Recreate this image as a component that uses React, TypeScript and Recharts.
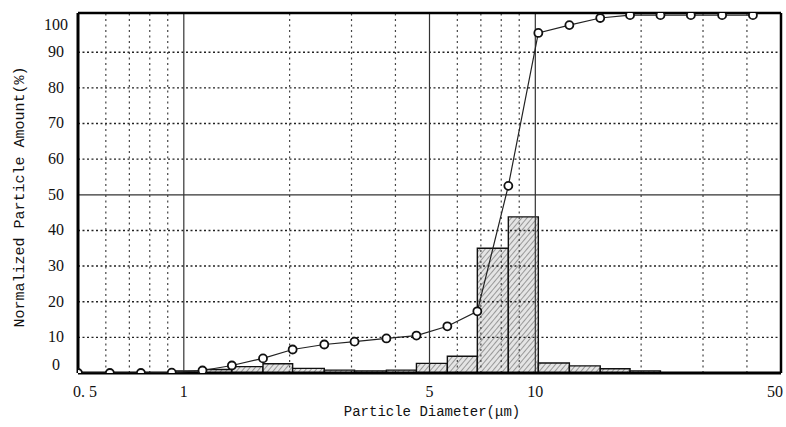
import React from "react";
import {
  ComposedChart,
  Line,
  XAxis,
  YAxis,
  ReferenceLine,
  ReferenceArea,
} from "recharts";

// Particle diameters (μm) of the measurement channels
const diameters = [
  0.5, 0.616, 0.755, 0.924, 1.13, 1.37, 1.68, 2.04, 2.51, 3.06, 3.77, 4.59,
  5.62, 6.84, 8.38, 10.2, 12.5, 15.3, 18.6, 22.7, 27.7, 34.0, 41.6,
];
// Cumulative normalized amount (%) at each diameter
const cumulative = [
  0, 0, 0, 0.1, 0.7, 2.1, 4.1, 6.6, 8.0, 8.8, 9.7, 10.5, 13.1, 17.3, 52.5,
  95.4, 97.6, 99.6, 100.4, 100.4, 100.4, 100.4, 100.4,
];
// Histogram bin heights (%) for the bin starting at each diameter
const binAmount = [
  0, 0, 0, 0.6, 1.0, 1.8, 2.6, 1.3, 0.8, 0.6, 0.8, 2.7, 4.7, 35.0, 43.8, 2.8,
  2.0, 1.2, 0.6, 0, 0, 0,
];

const xTicks = [0.5, 1, 5, 10, 50];
const xTickLabels = ["0. 5", "1", "5", "10", "50"];
const yTicks = [0, 10, 20, 30, 40, 50, 60, 70, 80, 90, 100];
const dottedX = [0.6, 0.7, 0.8, 0.9, 2, 3, 4, 6, 7, 8, 9, 20, 30, 40];
const solidX = [1, 5, 10];
const dottedY = [10, 20, 30, 40, 60, 70, 80, 90];
const solidY = [50];

const rows = diameters.map((d, i) => ({ d, cum: cumulative[i] }));
const bins = binAmount
  .map((h, i) => ({ x1: diameters[i], x2: diameters[i + 1], h }))
  .filter((b) => b.h > 0);

const tickFont = "'Liberation Serif', 'DejaVu Serif', serif";
const labelFont = "'Liberation Mono', 'DejaVu Sans Mono', monospace";

const nearestTick = (v: number) => {
  let best = 0;
  xTicks.forEach((t, i) => {
    if (Math.abs(Math.log(t) - Math.log(v)) < Math.abs(Math.log(xTicks[best]) - Math.log(v))) best = i;
  });
  return best;
};

const XTick = (props: any) => {
  const { x, y, payload } = props;
  const idx = nearestTick(Number(payload.value));
  let dx = 0;
  if (idx === 0) dx = 7;
  if (idx === xTicks.length - 1) dx = -6;
  return (
    <text
      x={x + dx}
      y={y + 16}
      textAnchor="middle"
      fontFamily={tickFont}
      fontSize={16}
      fill="#111"
    >
      {xTickLabels[idx]}
    </text>
  );
};

const YTick = (props: any) => {
  const { y, payload } = props;
  const v = Math.round(Number(payload.value));
  let dy = 5;
  if (v === 0) dy = -3;
  if (v === 100) dy = 13;
  return (
    <text
      x={48}
      y={y + dy}
      textAnchor="middle"
      fontFamily={tickFont}
      fontSize={16}
      fill="#111"
    >
      {v}
    </text>
  );
};

export default function App() {
  return (
    <div
      style={{
        position: "absolute",
        left: 8,
        top: 8,
        width: 778,
        height: 419,
        background: "#fff",
      }}
    >
      <ComposedChart
        width={778}
        height={419}
        data={rows}
        margin={{ top: 5, right: 5, left: 0, bottom: 0 }}
      >
        <defs>
          <pattern
            id="hatch"
            width="4"
            height="4"
            patternUnits="userSpaceOnUse"
            patternTransform="rotate(40)"
          >
            <rect width="4" height="4" fill="#e4e4e4" />
            <line x1="0" y1="0" x2="0" y2="4" stroke="#6e6e6e" strokeWidth="1.3" />
          </pattern>
        </defs>
        <XAxis
          type="number"
          dataKey="d"
          scale="log"
          domain={[0.5, 50]}
          ticks={xTicks}
          allowDataOverflow
          height={54}
          axisLine={false}
          tickLine={false}
          tick={<XTick />}
          interval={0}
          label={{
            content: () => (
              <text
                x={424}
                y={408}
                textAnchor="middle"
                fontFamily={labelFont}
                fontSize={14}
                fill="#111"
              >
                Particle Diameter(μm)
              </text>
            ),
          }}
        />
        <YAxis
          type="number"
          domain={[0, 101]}
          ticks={yTicks}
          allowDataOverflow
          width={70}
          axisLine={false}
          tickLine={false}
          tick={<YTick />}
          interval={0}
          label={{
            content: () => (
              <text
                x={16}
                y={189}
                textAnchor="middle"
                transform="rotate(-90 16 189)"
                fontFamily={labelFont}
                fontSize={15}
                fill="#111"
              >
                Normalized Particle Amount(%)
              </text>
            ),
          }}
        />
        {dottedY.map((v) => (
          <ReferenceLine
            key={"dy" + v}
            y={v}
            stroke="#222"
            strokeWidth={1.4}
            strokeDasharray="2 2.5"
          />
        ))}
        {dottedX.map((v) => (
          <ReferenceLine
            key={"dx" + v}
            x={v}
            stroke="#444"
            strokeWidth={1.2}
            strokeDasharray="2 3.5"
          />
        ))}
        {solidY.map((v) => (
          <ReferenceLine key={"sy" + v} y={v} stroke="#333" strokeWidth={1.2} />
        ))}
        {solidX.map((v) => (
          <ReferenceLine key={"sx" + v} x={v} stroke="#333" strokeWidth={1.2} />
        ))}
        {bins.map((b, i) => (
          <ReferenceArea
            key={"bin" + i}
            x1={b.x1}
            x2={b.x2}
            y1={0}
            y2={b.h}
            fill="url(#hatch)"
            fillOpacity={1}
            stroke="#111"
            strokeWidth={1.4}
          />
        ))}
        <ReferenceLine y={0} stroke="#000" strokeWidth={3} />
        <ReferenceLine y={101} stroke="#000" strokeWidth={2.5} />
        <ReferenceLine x={0.5} stroke="#000" strokeWidth={3} />
        <ReferenceLine x={50} stroke="#000" strokeWidth={2.5} />
        <Line
          type="linear"
          dataKey="cum"
          stroke="#222"
          strokeWidth={1.2}
          isAnimationActive={false}
          dot={{ r: 4, fill: "#fff", stroke: "#111", strokeWidth: 1.8 }}
          activeDot={false}
        />
      </ComposedChart>
    </div>
  );
}
